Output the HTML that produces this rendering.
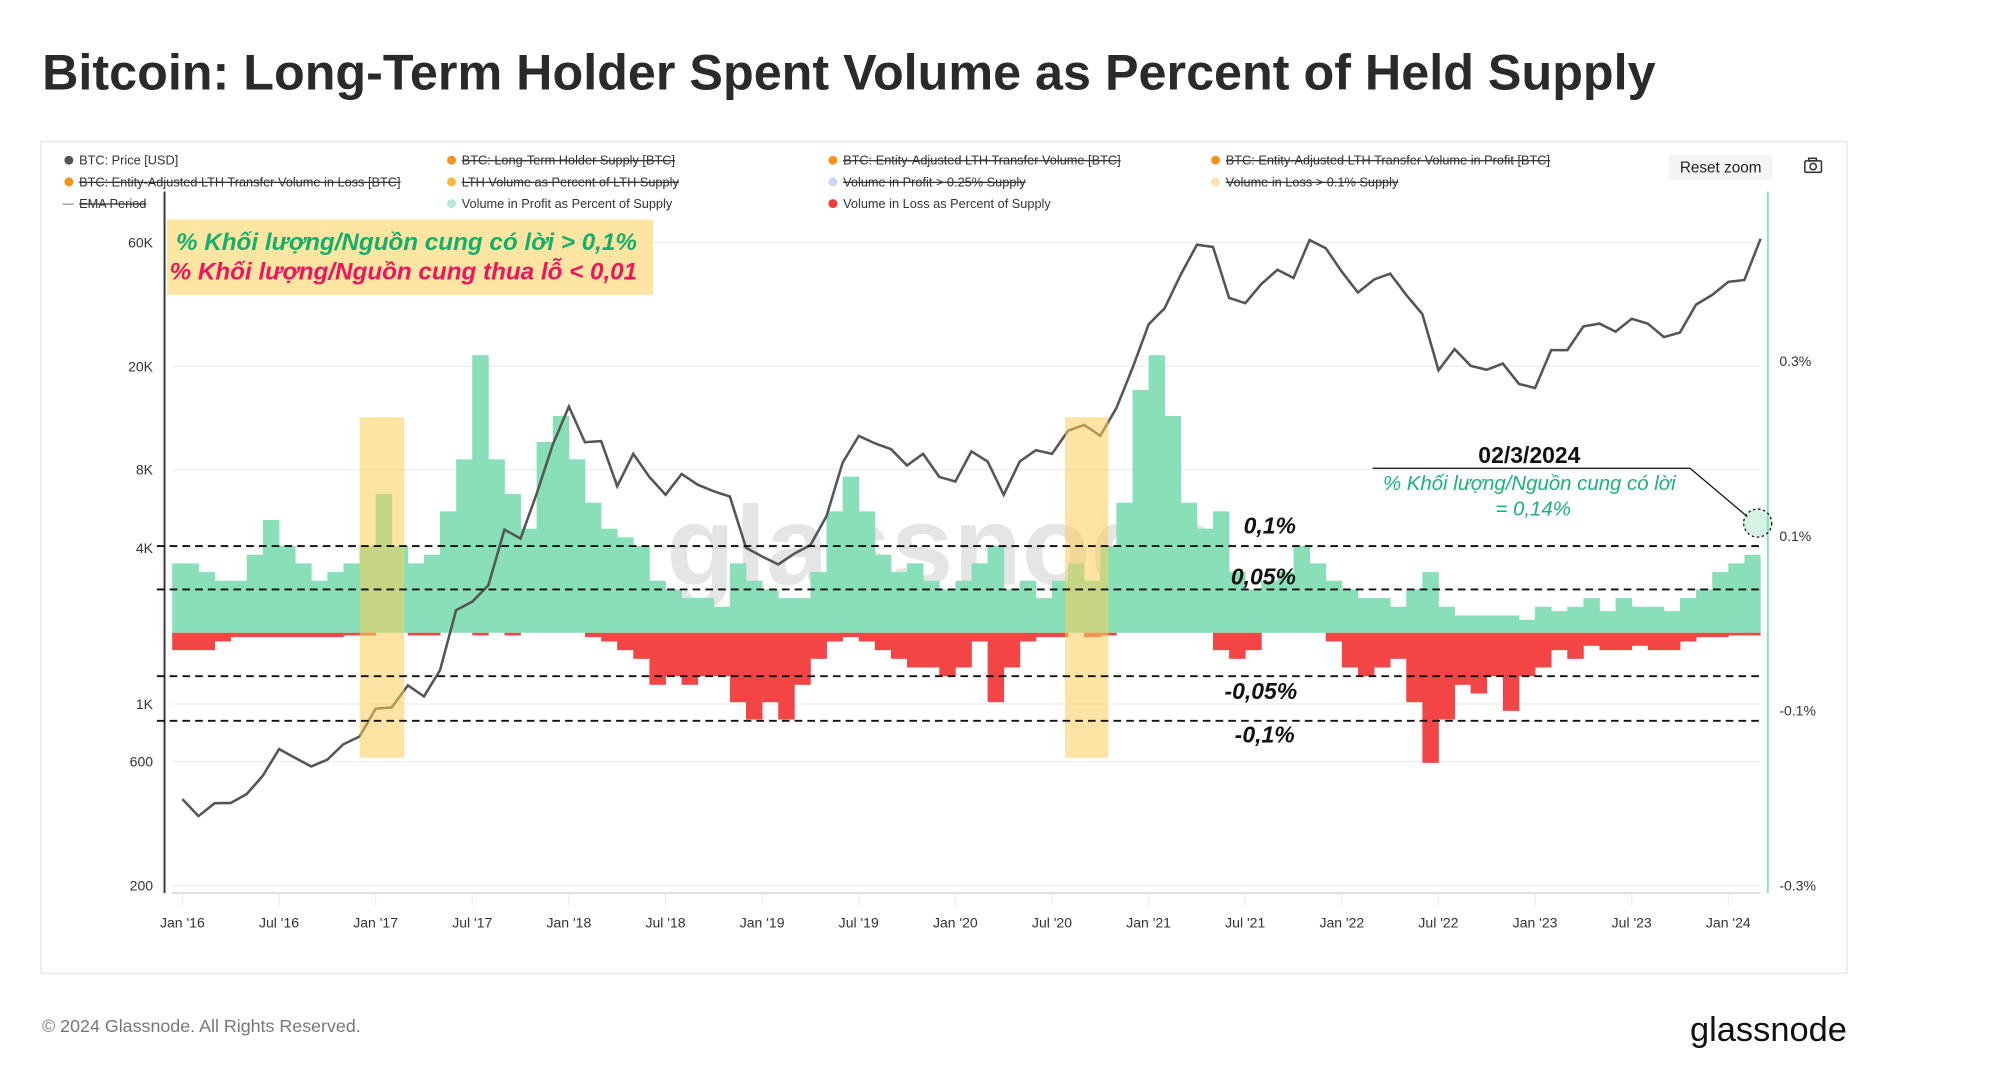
<!DOCTYPE html>
<html><head><meta charset="utf-8"><style>
html,body{margin:0;padding:0;background:#fff;}
svg{display:block;font-family:"Liberation Sans","Noto Sans CJK SC",sans-serif;}
</style></head><body>
<svg id="chart" width="2000" height="1087" viewBox="0 0 1568 852" xmlns="http://www.w3.org/2000/svg">
<text x="33" y="70" font-size="39" fill="#2a2a2a" font-weight="bold" textLength="1265" lengthAdjust="spacingAndGlyphs">Bitcoin: Long-Term Holder Spent Volume as Percent of Held Supply</text>
<rect x="32" y="111" width="1416" height="652" fill="#fff" stroke="#e6e6e6"/>
<g id="legend" font-size="10" fill="#333"></g>
<rect x="1308" y="121" width="82" height="20" rx="3" fill="#f4f5f7"/>
<text x="1349" y="135" font-size="12" text-anchor="middle" fill="#222">Reset zoom</text>
<g fill="none" stroke="#333" stroke-width="1.2"><rect x="1415" y="126" width="13" height="9" rx="1"/><circle cx="1421.5" cy="130.5" r="2.5"/><rect x="1418" y="124" width="6" height="2"/></g>
<g id="grid"></g>
<text x="740" y="458" font-size="88" text-anchor="middle" fill="rgba(0,0,0,0.10)" font-weight="bold">glassnode</text>
<g id="bars"></g>
<g id="priceg"></g>
<line x1="129" y1="150" x2="129" y2="700" stroke="#333" stroke-width="1.5"/>
<line x1="1386" y1="150" x2="1386" y2="700" stroke="#8fe0bd" stroke-width="1.5"/>
<line x1="135" y1="700" x2="1380" y2="700" stroke="#ccc"/>
<g id="axes" font-size="11" fill="#333"></g>
<rect x="282" y="327" width="35" height="267" fill="rgba(251,205,90,0.55)"/>
<rect x="835" y="327" width="34" height="267" fill="rgba(251,205,90,0.55)"/>
<g stroke="#111" stroke-width="1.5" stroke-dasharray="6,4">
<line x1="123" y1="428" x2="1380" y2="428"/><line x1="123" y1="462" x2="1380" y2="462"/>
<line x1="123" y1="530" x2="1380" y2="530"/><line x1="123" y1="565" x2="1380" y2="565"/></g>
<g font-size="18" font-weight="bold" font-style="italic" fill="#111">
<text x="975" y="418">0,1%</text><text x="965" y="458">0,05%</text><text x="960" y="548">-0,05%</text><text x="968" y="582">-0,1%</text></g>
<rect x="131" y="172" width="381" height="59" fill="rgba(253,220,130,0.75)"/>
<text x="138" y="196" font-size="19" font-weight="bold" font-style="italic" fill="#12b06e">% Khối lượng/Nguồn cung có lời &gt; 0,1%</text>
<text x="133" y="219" font-size="19" font-weight="bold" font-style="italic" fill="#f0135e">% Khối lượng/Nguồn cung thua lỗ &lt; 0,01</text>
<text x="1199" y="363" font-size="18" font-weight="bold" text-anchor="middle" fill="#111">02/3/2024</text>
<polyline points="1076,367 1325,367 1370,405" fill="none" stroke="#111" stroke-width="1"/>
<text x="1199" y="384" font-size="16" font-style="italic" text-anchor="middle" fill="#19b37a">% Khối lượng/Nguồn cung có lời</text>
<text x="1202" y="404" font-size="16" font-style="italic" text-anchor="middle" fill="#19b37a">= 0,14%</text>
<circle cx="1378" cy="410" r="11" fill="rgba(120,220,170,0.3)" stroke="#111" stroke-dasharray="2,2"/>
<text x="33" y="809" font-size="14" fill="#777">© 2024 Glassnode. All Rights Reserved.</text>
<text x="1448" y="816" font-size="27" text-anchor="end" fill="#111">glassnode</text>
</svg>
<script>
const xLabels=["Jan '16","Jul '16","Jan '17","Jul '17","Jan '18","Jul '18","Jan '19","Jul '19","Jan '20","Jul '20","Jan '21","Jul '21","Jan '22","Jul '22","Jan '23","Jul '23","Jan '24"];
const leftTicks=[60000,20000,8000,4000,1000,600,200];
const leftTickLabels=["60K","20K","8K","4K","1K","600","200"];
const rightTicks=[0.3,0.1,-0.1,-0.3];
const rightTickLabels=["0.3%","0.1%","-0.1%","-0.3%"];
const price=[430,370,415,416,450,530,670,620,575,610,700,750,
960,970,1180,1070,1350,2300,2480,2870,4700,4340,6450,10000,
14000,10200,10300,6900,9200,7500,6400,7700,7000,6600,6300,4000,
3700,3450,3800,4100,5300,8500,10800,10100,9600,8300,9200,7500,
7200,9400,8600,6400,8600,9500,9200,11300,11900,10800,13800,19700,
29000,33500,45200,58800,57700,36700,35000,41500,47100,43800,61300,57000,
46300,38500,43200,45500,37700,31800,19300,23300,20100,19400,20500,17100,
16500,23100,23100,28500,29200,27200,30500,29200,25900,27000,34600,37700,
42300,43000,62000];
const profitPct=[.08,.07,.06,.06,.09,.13,.10,.08,.06,.07,.08,.10,
.16,.10,.08,.09,.14,.20,.32,.20,.16,.12,.22,.25,
.20,.15,.12,.11,.10,.06,.05,.04,.04,.03,.08,.06,
.05,.04,.04,.07,.14,.18,.14,.09,.07,.08,.06,.05,
.06,.08,.10,.05,.06,.04,.06,.08,.06,.10,.15,.28,
.32,.25,.15,.12,.14,.07,.05,.06,.07,.10,.08,.06,
.05,.04,.04,.03,.05,.07,.03,.02,.02,.02,.02,.015,
.03,.025,.03,.04,.025,.04,.03,.03,.025,.04,.05,.07,
.08,.09,.12];
const lossPct=[.02,.02,.01,.005,.005,.005,.005,.005,.005,.005,.003,.003,
0,0,.003,.003,0,0,.003,0,.003,0,0,0,
0,.005,.01,.02,.03,.06,.05,.06,.05,.05,.08,.10,
.08,.10,.06,.03,.01,.005,.01,.02,.03,.04,.04,.05,
.04,.01,.08,.04,.01,.005,.005,0,.005,.003,0,0,
0,0,0,0,.02,.03,.02,0,0,0,0,.01,
.04,.05,.04,.03,.08,.15,.10,.06,.07,.05,.09,.05,
.04,.02,.03,.015,.02,.02,.015,.02,.02,.01,.005,.005,
.003,.003,.003];
const NS='http://www.w3.org/2000/svg';
function mk(tag,attrs,parent){const e=document.createElementNS(NS,tag);for(const k in attrs)e.setAttribute(k,attrs[k]);parent.appendChild(e);return e;}
const xOf=t=>143+(t-2016)*151.5;
const yPrice=v=>190+(Math.log10(60000)-Math.log10(v))*203.5;
const yPct=p=>496-p*680;
const yRight=p=>488.5-p*685;
const grid=document.getElementById('grid'),axes=document.getElementById('axes');
leftTicks.forEach((v,i)=>{
 const l=mk('line',{x1:135,x2:1380,y1:yPrice(v),y2:yPrice(v),stroke:'#eee'},grid);
 
 
 const t=mk('text',{x:120,y:yPrice(v)+4,'text-anchor':'end'},axes);t.textContent=leftTickLabels[i];
 
 
});
rightTicks.forEach((v,i)=>{
 const t=mk('text',{x:1395,y:yRight(v)+4},axes);t.textContent=rightTickLabels[i];
 
 
});
xLabels.forEach((s,i)=>{
 const x=xOf(2016+i*0.5);
 mk('line',{x1:x,x2:x,y1:700,y2:710,stroke:'#eee'},grid);
 const t=mk('text',{x:x,y:727,'text-anchor':'middle'},axes);t.textContent=s;
 
 
});
const bars=document.getElementById('bars');
profitPct.forEach((p,i)=>{
 let x0=xOf(2016+i/12),x1=Math.min(xOf(2016+(i+1)/12),1380);if(i===0)x0=135;
 const r=mk('rect',{x:x0,y:yPct(p),width:x1-x0+0.3,height:496-yPct(p),fill:'#88dfb8'},bars);
 
 
});
lossPct.forEach((p,i)=>{
 let x0=xOf(2016+i/12),x1=Math.min(xOf(2016+(i+1)/12),1380);if(i===0)x0=135;
 const r=mk('rect',{x:x0,y:496,width:x1-x0+0.3,height:p*680,fill:'#f34545'},bars);
 
 
});
const pts=price.map((v,i)=>xOf(2016+i/12).toFixed(1)+','+yPrice(v).toFixed(1)).join(' ');
const pl=mk('polyline',{points:pts,fill:'none',stroke:'#555',"stroke-width":2},document.getElementById('priceg'));


const legItems=[
 [50,129,'BTC: Price [USD]','#555',false],[350,129,'BTC: Long-Term Holder Supply [BTC]','#f7931a',true],
 [649,129,'BTC: Entity-Adjusted LTH Transfer Volume [BTC]','#f7931a',true],[949,129,'BTC: Entity-Adjusted LTH Transfer Volume in Profit [BTC]','#f7931a',true],
 [50,146,'BTC: Entity-Adjusted LTH Transfer Volume in Loss [BTC]','#f7931a',true],[350,146,'LTH Volume as Percent of LTH Supply','#f6b73c',true],
 [649,146,'Volume in Profit > 0.25% Supply','#c9d8f5',true],[949,146,'Volume in Loss > 0.1% Supply','#fbe3b8',true],
 [50,163,'EMA Period','#999',true],[350,163,'Volume in Profit as Percent of Supply','#b4ecd3',false],[649,163,'Volume in Loss as Percent of Supply','#f03c3c',false]];
const lg=document.getElementById('legend');
legItems.forEach(it=>{
 const g=mk('g',{},lg);
 
 
 if(it[2]==='EMA Period')mk('line',{x1:it[0]-1,x2:it[0]+8,y1:it[1]-3,y2:it[1]-3,stroke:'#999'},g);
 else mk('circle',{cx:it[0]+4,cy:it[1]-3.5,r:3.5,fill:it[3]},g);
 const t=mk('text',{x:it[0]+12,y:it[1],fill:'#333'},g);t.textContent=it[2];
 if(it[4])t.setAttribute('text-decoration','line-through');
});
</script>
</body></html>
